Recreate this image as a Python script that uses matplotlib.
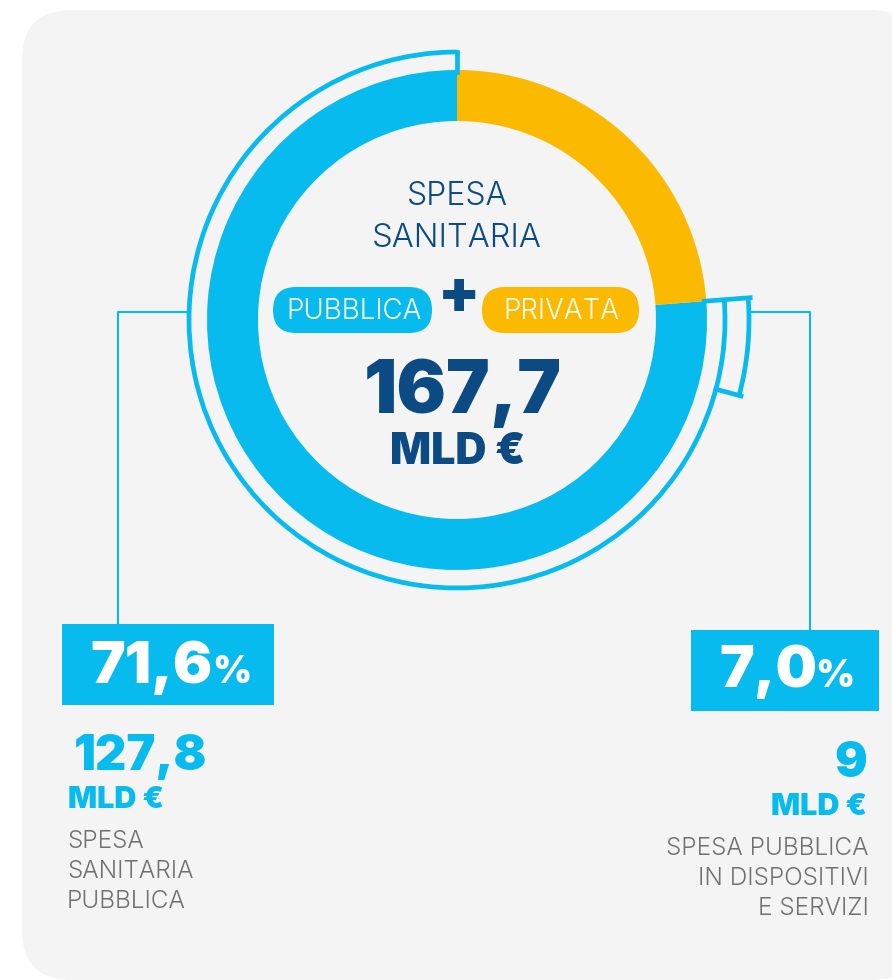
import numpy as np
import matplotlib
matplotlib.use("Agg")
import matplotlib.pyplot as plt
from matplotlib.patches import Arc, Rectangle, FancyBboxPatch

# dati (miliardi di euro)
spesa_totale = 167.7
spesa_pubblica = 127.8
spesa_privata = spesa_totale - spesa_pubblica
spesa_dispositivi = 9
quota_pubblica_lbl = "71,6"
quota_dispositivi_lbl = "7,0"

BLU = "#08BBEE"
GIALLO = "#FBB900"
NAVY = "#0C4A84"
GRIGIO = "#707070"
SFONDO = "#F4F4F4"

H = 980
FONT = ["Inter", "DejaVu Sans"]
LIGHT = 300
HEAVY = 900

fig = plt.figure(figsize=(8.92, 9.80), dpi=100)
ax = fig.add_axes([0, 0, 1, 1])

def Y(y):  # coordinate dall'alto
    return H - y

# sfondo arrotondato
ax.add_patch(FancyBboxPatch((22, Y(980)), 898, 970, boxstyle="round,pad=0,rounding_size=50",
                            fc=SFONDO, ec="none", zorder=0))

cx, cy = 457, Y(320)
r_out, spessore = 250, 51

# ciambella: pubblica + privata
ax.pie([spesa_pubblica, spesa_privata], colors=[BLU, GIALLO], startangle=90, counterclock=True,
       radius=r_out, center=(cx, cy), wedgeprops=dict(width=spessore, linewidth=0), frame=True)

ang_pub = 360 * spesa_pubblica / spesa_totale
ang_conf = 90 + ang_pub - 360  # confine pubblica / privata
ang_disp = 360 * spesa_dispositivi / spesa_totale

def radiale(ang, r1, r2, lw=3.4):
    a = np.deg2rad(ang)
    ax.plot([cx + r1 * np.cos(a), cx + r2 * np.cos(a)], [cy + r1 * np.sin(a), cy + r2 * np.sin(a)],
            color=BLU, lw=lw, solid_capstyle="projecting", zorder=3)

# parentesi esterna (spesa pubblica)
r_arc = 268
ax.add_patch(Arc((cx, cy), 2 * r_arc, 2 * r_arc, theta1=90, theta2=90 + ang_pub, color=BLU, lw=3.4, zorder=3))
radiale(90, r_out - 2, r_arc)
radiale(ang_conf, r_out - 2, 294)

# parentesi piccola (dispositivi)
r_small = 292
ax.add_patch(Arc((cx, cy), 2 * r_small, 2 * r_small, theta1=ang_conf - ang_disp, theta2=ang_conf,
                 color=BLU, lw=3.4, zorder=3))
radiale(ang_conf - ang_disp, r_arc, r_small + 2)

# linee di collegamento
ax.plot([cx - r_arc, 118, 118], [Y(312), Y(312), Y(625)], color=BLU, lw=1.5, zorder=2)
ax.plot([cx + r_small + 2, 810, 810], [Y(312), Y(312), Y(631)], color=BLU, lw=1.5, zorder=2)

# testo centrale
ax.text(cx, Y(205), "SPESA", ha="center", va="baseline", fontsize=23, color=NAVY, family=FONT, fontweight=LIGHT)
ax.text(cx, Y(247), "SANITARIA", ha="center", va="baseline", fontsize=23.5, color=NAVY, family=FONT, fontweight=LIGHT)

ax.add_patch(FancyBboxPatch((273, Y(333)), 159, 46, boxstyle="round,pad=0,rounding_size=23",
                            fc=BLU, ec="none", zorder=3))
ax.add_patch(FancyBboxPatch((482, Y(333)), 157, 46, boxstyle="round,pad=0,rounding_size=23",
                            fc=GIALLO, ec="none", zorder=3))
ax.text(354, Y(319), "PUBBLICA", ha="center", va="baseline", fontsize=20, color="white", family=FONT,
        fontweight=LIGHT, zorder=4)
ax.text(561, Y(319), "PRIVATA", ha="center", va="baseline", fontsize=20, color="white", family=FONT,
        fontweight=LIGHT, zorder=4)
ax.text(459, Y(297), "+", ha="center", va="center", fontsize=44, color=NAVY, family=FONT, fontweight=HEAVY)

ax.text(463, Y(413), f"{spesa_totale:.1f}".replace(".", ","), ha="center", va="baseline", fontsize=53,
        color=NAVY, family=FONT, fontweight=HEAVY)
ax.text(458, Y(464), "MLD €", ha="center", va="baseline", fontsize=31, color=NAVY, family=FONT, fontweight=HEAVY)

# riquadro sinistro
ax.add_patch(Rectangle((62, Y(705)), 212, 81, fc=BLU, ec="none", zorder=3))
ax.text(213, Y(683), quota_pubblica_lbl, ha="right", va="baseline", fontsize=42, color="white",
        family=FONT, fontweight=HEAVY, zorder=4)
ax.text(212, Y(683), "%", ha="left", va="baseline", fontsize=27, color="white", family=FONT,
        fontweight=HEAVY, zorder=4)
ax.text(74, Y(770), f"{spesa_pubblica:.1f}".replace(".", ","), ha="left", va="baseline", fontsize=35,
        color=BLU, family=FONT, fontweight=HEAVY)
ax.text(68, Y(808), "MLD €", ha="left", va="baseline", fontsize=22, color=BLU, family=FONT, fontweight=HEAVY)
for i, riga in enumerate(["SPESA", "SANITARIA", "PUBBLICA"]):
    ax.text(67, Y(848 + 30 * i), riga, ha="left", va="baseline", fontsize=17.5, color=GRIGIO,
            family=FONT, fontweight=LIGHT)

# riquadro destro
ax.add_patch(Rectangle((691, Y(711)), 188, 81, fc=BLU, ec="none", zorder=3))
ax.text(817, Y(687), quota_dispositivi_lbl, ha="right", va="baseline", fontsize=42, color="white",
        family=FONT, fontweight=HEAVY, zorder=4)
ax.text(815, Y(687), "%", ha="left", va="baseline", fontsize=27, color="white", family=FONT,
        fontweight=HEAVY, zorder=4)
ax.text(867, Y(777), f"{spesa_dispositivi:g}", ha="right", va="baseline", fontsize=35, color=BLU,
        family=FONT, fontweight=HEAVY)
ax.text(867, Y(815), "MLD €", ha="right", va="baseline", fontsize=22, color=BLU, family=FONT, fontweight=HEAVY)
for i, riga in enumerate(["SPESA PUBBLICA", "IN DISPOSITIVI", "E SERVIZI"]):
    ax.text(869, Y(855 + 30 * i), riga, ha="right", va="baseline", fontsize=17.5, color=GRIGIO,
            family=FONT, fontweight=LIGHT)

ax.set_xlim(0, 892)
ax.set_ylim(0, H)
ax.set_aspect("equal")
ax.axis("off")

fig.savefig("out.png", dpi=100, facecolor="white")
